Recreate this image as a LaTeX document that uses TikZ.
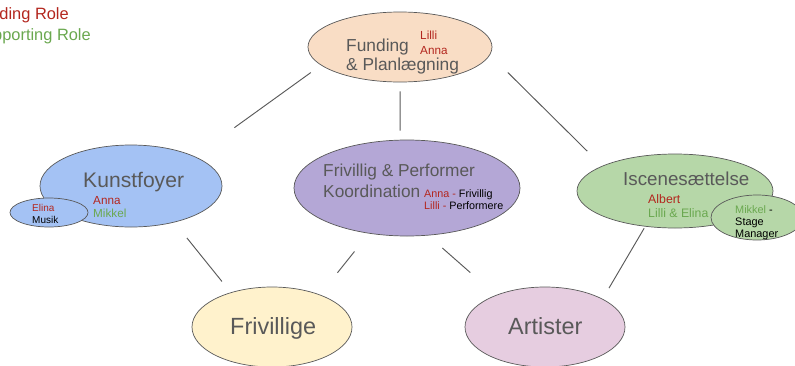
\documentclass[tikz,border=0pt]{standalone}
\usepackage{fontspec}
\setmainfont{Liberation Sans}
\usepackage{xcolor}
\usetikzlibrary{shapes}

\definecolor{peach}{HTML}{F9DDC5}
\definecolor{skyblue}{HTML}{A4C2F4}
\definecolor{lilac}{HTML}{B4A7D6}
\definecolor{sage}{HTML}{B6D7A8}
\definecolor{cream}{HTML}{FFF2CC}
\definecolor{rose}{HTML}{E6CDE0}
\definecolor{linegray}{HTML}{595959}
\definecolor{txtgray}{HTML}{595959}
\definecolor{rolered}{HTML}{B3261E}
\definecolor{rolegreen}{HTML}{6AA84F}

\tikzset{
  bubble/.style={ellipse, draw=linegray, line width=0.6pt, inner sep=0pt},
  link/.style={draw=linegray, line width=0.8pt},
  lbl/.style={inner sep=0pt, anchor=north west, align=left, text=txtgray}
}

\begin{document}
\begin{tikzpicture}[x=0.03cm,y=-0.03cm]
\useasboundingbox (0,0) rectangle (795,365);
\clip (0,0) rectangle (795,365);

% legend
\node [lbl, anchor=north east, text=rolered, font=\fontsize{14}{16}\selectfont]
       (leadlbl) at (69,7.5) {Leading Role};
\node [lbl, anchor=north east, text=rolegreen, font=\fontsize{14}{16}\selectfont]
       (supplbl) at (91,28.3) {Supporting Role};

% funding
\node [bubble, fill=peach, minimum width=5.52cm, minimum height=2.1cm]
       (fund) at (400,47) {};
\node [lbl, font=\fontsize{14.8}{16.2}\selectfont]
       (fundtxt) at (346,38.3) {Funding\\\& Planlægning};
\node [lbl, text=rolered, font=\fontsize{10}{13}\selectfont]
       (fundroles) at (420,30.7) {Lilli\\Anna};

% kunstfoyer
\node [bubble, fill=skyblue, minimum width=5.46cm, minimum height=2.46cm]
       (kunst) at (131,186) {};
\node [lbl, font=\fontsize{18}{20}\selectfont]
       (kunsttxt) at (83,171.7) {Kunstfoyer};
\node [lbl, font=\fontsize{10}{11}\selectfont]
       (kunstroles) at (93,196) {\textcolor{rolered}{Anna}\\\textcolor{rolegreen}{Mikkel}};
\node [bubble, fill=skyblue, minimum width=2.34cm, minimum height=0.87cm]
       (musik) at (49,212.5) {};
\node [lbl, text=black, font=\fontsize{8.5}{10.2}\selectfont]
       (musiktxt) at (32,204) {\textcolor{rolered}{Elina}\\Musik};

% koordination
\node [bubble, fill=lilac, minimum width=6.78cm, minimum height=2.88cm]
       (koord) at (407,188) {};
\node [lbl, font=\fontsize{14.75}{17.9}\selectfont]
       (koordtxt) at (323,163.3) {Frivillig \& Performer\\Koordination};
\node [lbl, text=black, font=\fontsize{9.2}{10.6}\selectfont]
       (koordroles) at (424,189.3) {\textcolor{rolered}{Anna -} Frivillig\\\textcolor{rolered}{Lilli -} Performere};

% iscenesaettelse
\node [bubble, fill=sage, minimum width=5.88cm, minimum height=2.22cm]
       (scene) at (675,191) {};
\node [lbl, font=\fontsize{16}{18}\selectfont]
       (scenetxt) at (623,171.7) {Iscenesættelse};
\node [lbl, font=\fontsize{10.5}{12}\selectfont]
       (sceneroles) at (648,194) {\textcolor{rolered}{Albert}\\\textcolor{rolegreen}{Lilli \& Elina}};
\node [bubble, fill=sage, minimum width=2.76cm, minimum height=1.35cm]
       (stage) at (757,217.5) {};
\node [lbl, text=black, font=\fontsize{9.3}{10.2}\selectfont]
       (stagetxt) at (735,205.7) {\textcolor{rolegreen}{Mikkel} -\\Stage\\Manager};

% bottom row
\node [bubble, fill=cream, minimum width=4.8cm, minimum height=2.4cm]
       (friv) at (272,327) {};
\node [lbl, font=\fontsize{20}{22}\selectfont]
       (frivtxt) at (230,317.3) {Frivillige};
\node [bubble, fill=rose, minimum width=4.8cm, minimum height=2.4cm]
       (art) at (545,327) {};
\node [lbl, font=\fontsize{20}{22}\selectfont]
       (arttxt) at (508,317.3) {Artister};

% connectors
\draw [link, shorten <=0.375cm, shorten >=1.47cm] (fund.193.7) -- (kunst.25.9);
\draw [link, shorten <=0.27cm, shorten >=0.27cm] (fund.270) -- (koord.98.3);
\draw [link, shorten <=0.75cm, shorten >=0.63cm] (fund.-5.3) -- (scene.161.9);
\draw [link, shorten <=0.6cm, shorten >=0.42cm] (kunst.-40.8) -- (friv.140.2);
\draw [link, shorten <=0.69cm, shorten >=0.84cm] (koord.230.4) -- (friv.34.4);
\draw [link, shorten <=0.57cm, shorten >=1.02cm] (koord.-66.3) -- (art.147.7);
\draw [link, shorten <=0.06cm, shorten >=0.375cm] (scene.230.7) -- (art.26.6);
\end{tikzpicture}
\end{document}
